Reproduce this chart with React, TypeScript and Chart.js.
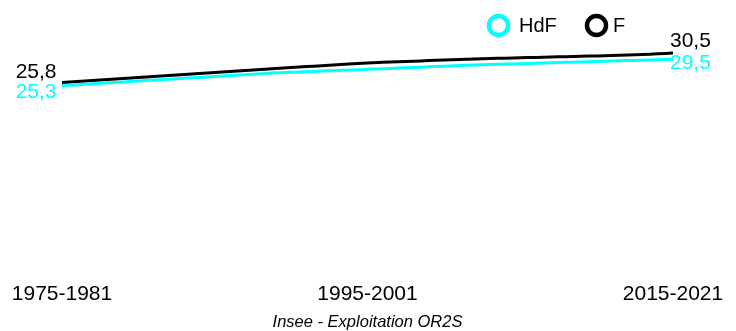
import React, { useEffect, useRef } from "react";
import { Chart, registerables } from "chart.js";

Chart.register(...registerables);

// Rolling seven-year periods
const periods = [
  "1975-1981", "1976-1982", "1977-1983", "1978-1984", "1979-1985",
  "1980-1986", "1981-1987", "1982-1988", "1983-1989", "1984-1990",
  "1985-1991", "1986-1992", "1987-1993", "1988-1994", "1989-1995",
  "1990-1996", "1991-1997", "1992-1998", "1993-1999", "1994-2000",
  "1995-2001", "1996-2002", "1997-2003", "1998-2004", "1999-2005",
  "2000-2006", "2001-2007", "2002-2008", "2003-2009", "2004-2010",
  "2005-2011", "2006-2012", "2007-2013", "2008-2014", "2009-2015",
  "2010-2016", "2011-2017", "2012-2018", "2013-2019", "2014-2020",
  "2015-2021",
];

// Hauts-de-France
const hdfValues = [
  25.30, 25.45, 25.59, 25.74, 25.88, 26.03, 26.18, 26.32, 26.47, 26.61,
  26.76, 26.91, 27.05, 27.20, 27.35, 27.44, 27.53, 27.62, 27.72, 27.81,
  27.90, 28.00, 28.10, 28.20, 28.30, 28.40, 28.50, 28.60, 28.67, 28.74,
  28.81, 28.88, 28.95, 29.02, 29.09, 29.16, 29.23, 29.30, 29.37, 29.44,
  29.50,
];

// France
const franceValues = [
  25.80, 25.96, 26.12, 26.28, 26.44, 26.60, 26.76, 26.92, 27.08, 27.24,
  27.40, 27.56, 27.72, 27.88, 28.04, 28.19, 28.34, 28.49, 28.64, 28.79,
  28.93, 29.03, 29.12, 29.21, 29.30, 29.39, 29.48, 29.56, 29.63, 29.69,
  29.75, 29.81, 29.87, 29.93, 29.99, 30.05, 30.12, 30.19, 30.27, 30.38,
  30.50,
];

const shownTicks = ["1975-1981", "1995-2001", "2015-2021"];
const seriesNames = ["HdF", "F"];
const seriesColors = ["#00FFFF", "#000000"];
const sourceText = "Insee - Exploitation OR2S";

const FONT = "'Liberation Sans', Arial, sans-serif";

const fmt = (v: number) => v.toFixed(1).replace(".", ",");

// Value labels at the first and last point of each series
const endLabelsPlugin = {
  id: "endLabels",
  afterDatasetsDraw(chart: any) {
    const ctx = chart.ctx;
    // [start dy, end dy] per dataset
    const offsets = [
      [7, 4],
      [-10.5, -12],
    ];
    ctx.save();
    ctx.font = `21px ${FONT}`;
    ctx.textBaseline = "middle";
    chart.data.datasets.forEach((ds: any, i: number) => {
      const meta = chart.getDatasetMeta(i);
      const pts = meta.data;
      if (!pts.length) return;
      const first = pts[0];
      const last = pts[pts.length - 1];
      ctx.fillStyle = ds.borderColor;
      ctx.textAlign = "right";
      ctx.fillText(fmt(ds.data[0]), first.x - 5.5, first.y + offsets[i][0]);
      ctx.textAlign = "left";
      ctx.fillText(fmt(ds.data[ds.data.length - 1]), last.x - 3, last.y + offsets[i][1]);
    });
    ctx.restore();
  },
};

// Ring-marker legend in the top right
const ringLegendPlugin = {
  id: "ringLegend",
  afterDraw(chart: any) {
    const ctx = chart.ctx;
    const items = [
      { cx: 498.5, tx: 519 },
      { cx: 596.5, tx: 613 },
    ];
    const cy = 25.5;
    ctx.save();
    chart.data.datasets.forEach((ds: any, i: number) => {
      const it = items[i];
      ctx.beginPath();
      ctx.arc(it.cx, cy, 9.5, 0, Math.PI * 2);
      ctx.lineWidth = 4.5;
      ctx.strokeStyle = ds.borderColor;
      ctx.stroke();
      ctx.fillStyle = "#000";
      ctx.font = `20px ${FONT}`;
      ctx.textAlign = "left";
      ctx.textBaseline = "middle";
      ctx.fillText(ds.label, it.tx, cy + 1);
    });
    ctx.restore();
  },
};

export default function App() {
  const canvasRef = useRef<HTMLCanvasElement | null>(null);

  useEffect(() => {
    if (!canvasRef.current) return;
    const chart = new Chart(canvasRef.current, {
      type: "line",
      data: {
        labels: periods,
        datasets: [
          {
            label: seriesNames[0],
            data: hdfValues,
            borderColor: seriesColors[0],
            backgroundColor: seriesColors[0],
            borderWidth: 3,
            pointRadius: 0,
            tension: 0.4,
          },
          {
            label: seriesNames[1],
            data: franceValues,
            borderColor: seriesColors[1],
            backgroundColor: seriesColors[1],
            borderWidth: 3,
            pointRadius: 0,
            tension: 0.4,
          },
        ],
      },
      options: {
        animation: false,
        responsive: true,
        maintainAspectRatio: false,
        layout: { padding: { left: 62, right: 63, top: 25, bottom: 0 } },
        plugins: {
          legend: { display: false },
          tooltip: { enabled: false },
          title: {
            display: true,
            position: "bottom",
            text: sourceText,
            color: "#000",
            font: { family: FONT, size: 16.5, style: "italic", weight: "normal", lineHeight: 1 },
            padding: { top: 7.2, bottom: 0 },
          },
        },
        scales: {
          x: {
            // tick marks are not drawn; their length only spaces the labels
            grid: { display: false, drawTicks: true, tickLength: 38.4 },
            border: { display: false },
            ticks: {
              autoSkip: false,
              maxRotation: 0,
              minRotation: 0,
              padding: 0,
              color: "#000",
              font: { family: FONT, size: 21, lineHeight: 1.2 },
              callback(this: any, value: any) {
                const lab = this.getLabelForValue(value);
                return shownTicks.includes(lab) ? lab : "";
              },
            },
          },
          y: {
            display: false,
            min: 0,
            max: 35,
          },
        },
      },
      plugins: [endLabelsPlugin, ringLegendPlugin],
    });
    return () => chart.destroy();
  }, []);

  return (
    <div style={{ position: "fixed", left: 0, top: 0, width: 736, height: 331, background: "#fff" }}>
      <canvas ref={canvasRef} />
    </div>
  );
}
